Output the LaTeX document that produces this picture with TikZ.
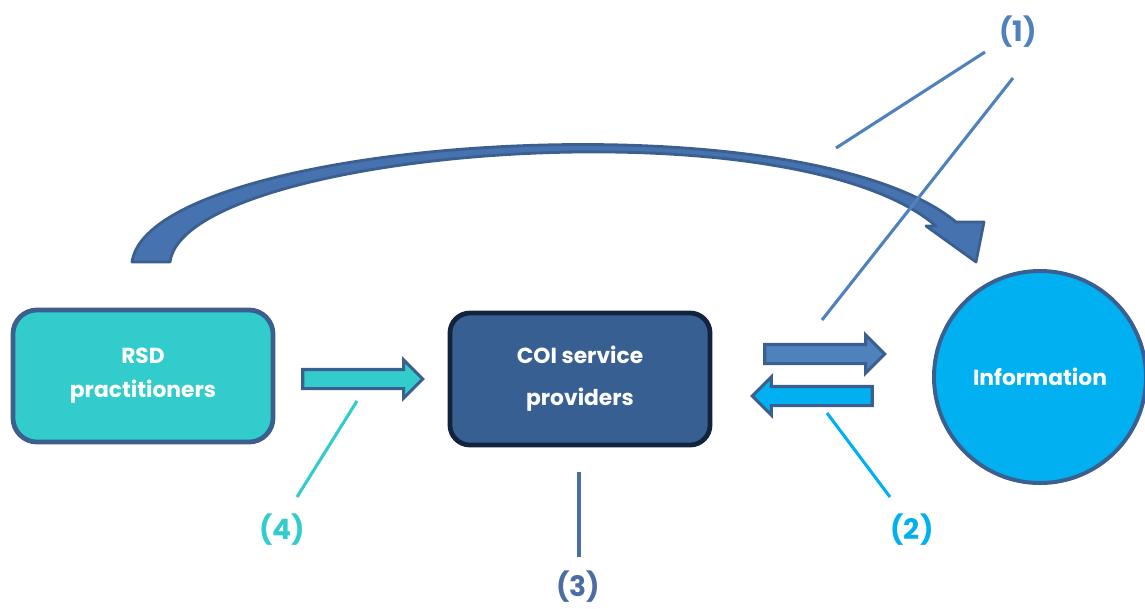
\documentclass[tikz,border=0pt]{standalone}
\usepackage{fontspec}
\setmainfont{Poppins}
\usetikzlibrary{shapes.arrows}

\definecolor{rsdteal}{HTML}{33CCCC}
\definecolor{edgeblue}{HTML}{3B5F8E}
\definecolor{coiblue}{HTML}{375F92}
\definecolor{coiedge}{HTML}{14233D}
\definecolor{infoblue}{HTML}{00B0F0}
\definecolor{midblue}{HTML}{4F81BD}
\definecolor{curveblue}{HTML}{4672AF}
\definecolor{labelblue}{HTML}{4A6DA3}

\begin{document}
\begin{tikzpicture}[
        x=0.025cm,
        y=-0.025cm,
        box/.style={
            rectangle,
            rounded corners=0.6cm,
            line width=3.4pt,
            align=center,
            minimum width=6.5cm,
            minimum height=3.3cm,
            text=white,
            font=\fontsize{15.5}{24}\selectfont\bfseries
        },
        blockarrow/.style={
            single arrow,
            draw=edgeblue,
            line width=2.2pt,
            inner xsep=0pt,
            inner ysep=0.2cm,
            single arrow head extend=0.24cm,
            minimum height=3.0cm
        },
        callout/.style={
            line width=2.2pt
        },
        tag/.style={
            inner sep=0pt,
            font=\fontsize{20}{24}\selectfont\bfseries
        }
    ]

        \useasboundingbox (0,0) rectangle (1145,608);

        \node[box, fill=rsdteal, draw=edgeblue] (rsd) at (143,376) {RSD\\practitioners};
        \node[box, fill=coiblue, draw=coiedge, rounded corners=0.5cm,
              font=\fontsize{15.5}{30}\selectfont\bfseries] (coi) at (580,379) {COI service\\providers};
        \node[circle, fill=infoblue, draw=edgeblue, line width=2.8pt, minimum size=5.3cm,
              text=white, font=\fontsize{15.5}{24}\selectfont\bfseries] (info) at (1040,377) {Information};

        % block arrows between the nodes
        \node[blockarrow, fill=rsdteal] (a4) at (358,379) {};
        \node[blockarrow, fill=midblue] (a1) at (820,354) {};
        \node[blockarrow, fill=infoblue, shape border rotate=180] (a2) at (817,396) {};

        % curved arrow from the practitioners to the information
        \draw[draw=edgeblue, fill=curveblue, line width=2pt, line join=round]
            (132,262) .. controls (150,138) and (800,93) .. (956,222)
            -- (984,222) -- (976,262) -- (926,226) -- (936,226)
            .. controls (790,100) and (185,150) .. (170,262) -- cycle;

        % labels
        \node[tag, text=midblue] (l1) at (1018,32) {(1)};
        \node[tag, text=infoblue] (l2) at (912,530) {(2)};
        \node[tag, text=labelblue] (l3) at (578,587) {(3)};
        \node[tag, text=rsdteal] (l4) at (282,530) {(4)};

        \coordinate (l1a) at (985,52);
        \coordinate (l1b) at (1013,78);
        \coordinate (l2a) at (890,497);
        \coordinate (l3a) at (579,557);
        \coordinate (l4a) at (297,497);

        \draw[callout, midblue] (l1a) -- (836,148);
        \draw[callout, midblue] (l1b) -- (822,320);
        \draw[callout, infoblue] (l2a) -- (827,413);
        \draw[callout, labelblue] (l3a) -- (579,472);
        \draw[callout, rsdteal] (l4a) -- (357,401);

    \end{tikzpicture}
\end{document}
